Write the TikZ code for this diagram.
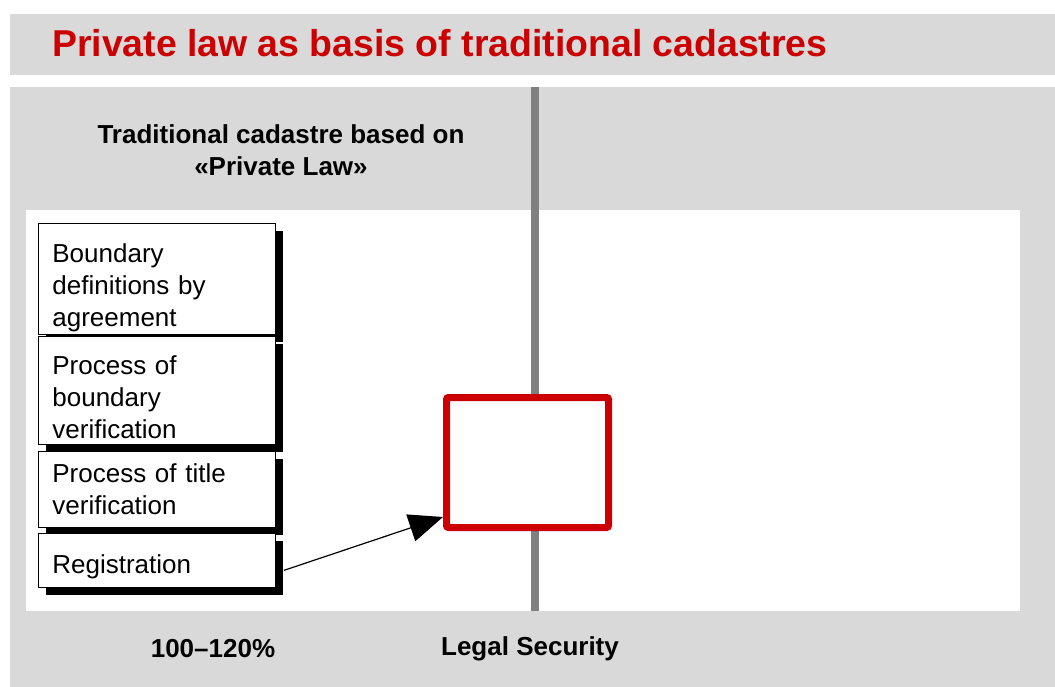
\documentclass[tikz,border=0pt]{standalone}
\usepackage{fontspec}
\setmainfont{Liberation Sans}
\usetikzlibrary{arrows.meta,shadows}
\definecolor{lawred}{RGB}{204,0,0}
\definecolor{panelgray}{RGB}{217,217,217}
\definecolor{axisgray}{RGB}{128,128,128}

\begin{document}
\begin{tikzpicture}[x=1pt, y=-1pt,
    stepbox/.style={draw, line width=0.8pt, fill=white, anchor=north west,
      minimum width=237pt, text width=209pt, inner xsep=14pt, inner ysep=0pt, align=left,
      font=\fontsize{26}{32}\selectfont,
      drop shadow={shadow xshift=8pt, shadow yshift=-8pt, fill=black, opacity=1}},
    boldtext/.style={font=\bfseries\fontsize{26}{32}\selectfont, align=center}]
    \useasboundingbox (0,0) rectangle (1055,687);
    \fill[panelgray] (10,14) rectangle (1055,75);
    \fill[panelgray] (10,87) rectangle (1055,687);
    \fill[white] (26,210) rectangle (1020,611);
    \fill[axisgray] (531,87) rectangle (539,611);

    \node[anchor=base west, inner sep=0pt, text=lawred, font=\bfseries\fontsize{37.4}{44}\selectfont] (heading) at (52,57) {Private law as basis of traditional cadastres};
    \node[boldtext] (head) at (281,150) {Traditional cadastre based on\\«Private Law»};

    \node[stepbox, minimum height=111pt] (bound) at (38,223) {\rule{0pt}{37pt}Boundary\\definitions by\\agreement};
    \node[stepbox, minimum height=108pt] (verif) at (38,336) {\rule{0pt}{33pt}Process of\\boundary\\verification};
    \node[stepbox, minimum height=76pt] (titlever) at (38,451) {Process of title\\verification};
    \node[stepbox, minimum height=54pt] (reg) at (38,533) {\rule{0pt}{31pt}Registration};

    \node[draw=lawred, line width=7pt, fill=white, rounded corners=2pt, minimum width=162pt, minimum height=130pt] (secure) at (527.5,462.5) {};

    \draw[-{Triangle[length=34pt,width=28pt]}, line width=1.2pt] ([shift={(8,10)}]reg.east) -- ([yshift=14pt]secure.south west);

    \node[boldtext] (pct) at (213,649) {100–120\%};
    \node[boldtext] (legal) at (530,649) {Legal Security};
\end{tikzpicture}
\end{document}
